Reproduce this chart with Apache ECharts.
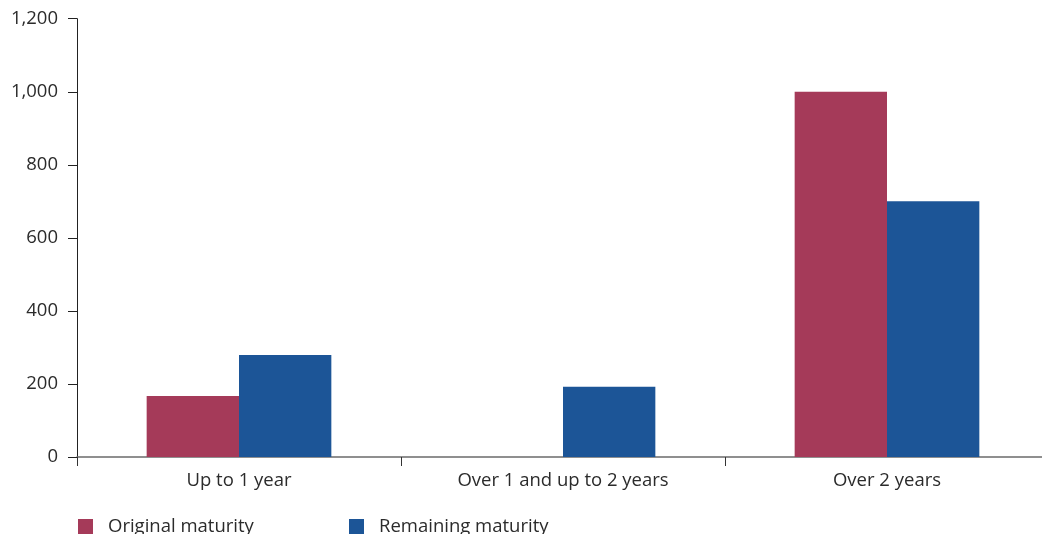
<!DOCTYPE html>
<html><head><meta charset="utf-8">
<script src="https://cdn.jsdelivr.net/npm/echarts@6/dist/echarts.min.js"></script>
<style>html,body{margin:0;padding:0;background:#fff;overflow:hidden}#c{width:1056px;height:534px}</style>
</head><body><div id="c"></div>
<script>
const categories = ['Up to 1 year', 'Over 1 and up to 2 years', 'Over 2 years'];
const originalMaturity = [167, null, 1000];
const remainingMaturity = [279, 192, 700];
const yTicks = [0, 200, 400, 600, 800, 1000, 1200];

const FONT = 'Open Sans';
const FS = 18.5;
const chart = echarts.init(document.getElementById('c'), null, {renderer: 'canvas'});
chart.setOption({
  animation: false,
  textStyle: {fontFamily: FONT},
  grid: {left: 77, top: 18.7, bottom: 77, right: 7, containLabel: false},
  legend: [
    {left: 78, top: 517, padding: 0, itemWidth: 15, itemHeight: 15, icon: 'rect', data: ['Original maturity'],
     textStyle: {fontFamily: FONT, fontSize: FS, color: '#2b2b2b', padding: [0,0,0,10]}},
    {left: 349, top: 517, padding: 0, itemWidth: 15, itemHeight: 15, icon: 'rect', data: ['Remaining maturity'],
     textStyle: {fontFamily: FONT, fontSize: FS, color: '#2b2b2b', padding: [0,0,0,10]}}
  ],
  xAxis: {
    type: 'category', data: categories,
    axisLine: {lineStyle: {color: '#6b6b6b', width: 1.5}},
    axisTick: {show: true, length: 9, lineStyle: {color: '#333'}},
    axisLabel: {fontFamily: FONT, fontSize: FS, color: '#2b2b2b', margin: 14, interval: 0}
  },
  yAxis: {
    type: 'value', min: 0, max: 1200, interval: 200,
    axisLine: {show: true, lineStyle: {color: '#222', width: 1}},
    axisTick: {show: true, length: 9, lineStyle: {color: '#222'}},
    splitLine: {show: false},
    axisLabel: {fontFamily: FONT, fontSize: FS, color: '#2b2b2b', margin: 19,
      formatter: v => yTicks.includes(v) ? v.toLocaleString('en-US') : ''}
  },
  series: [
    {name: 'Original maturity', type: 'bar', data: originalMaturity, barWidth: '28.5%', barGap: '0%',
     itemStyle: {color: '#a53a59'}},
    {name: 'Remaining maturity', type: 'bar', data: remainingMaturity, barWidth: '28.5%', barGap: '0%',
     itemStyle: {color: '#1c5597'}}
  ]
});
</script></body></html>
